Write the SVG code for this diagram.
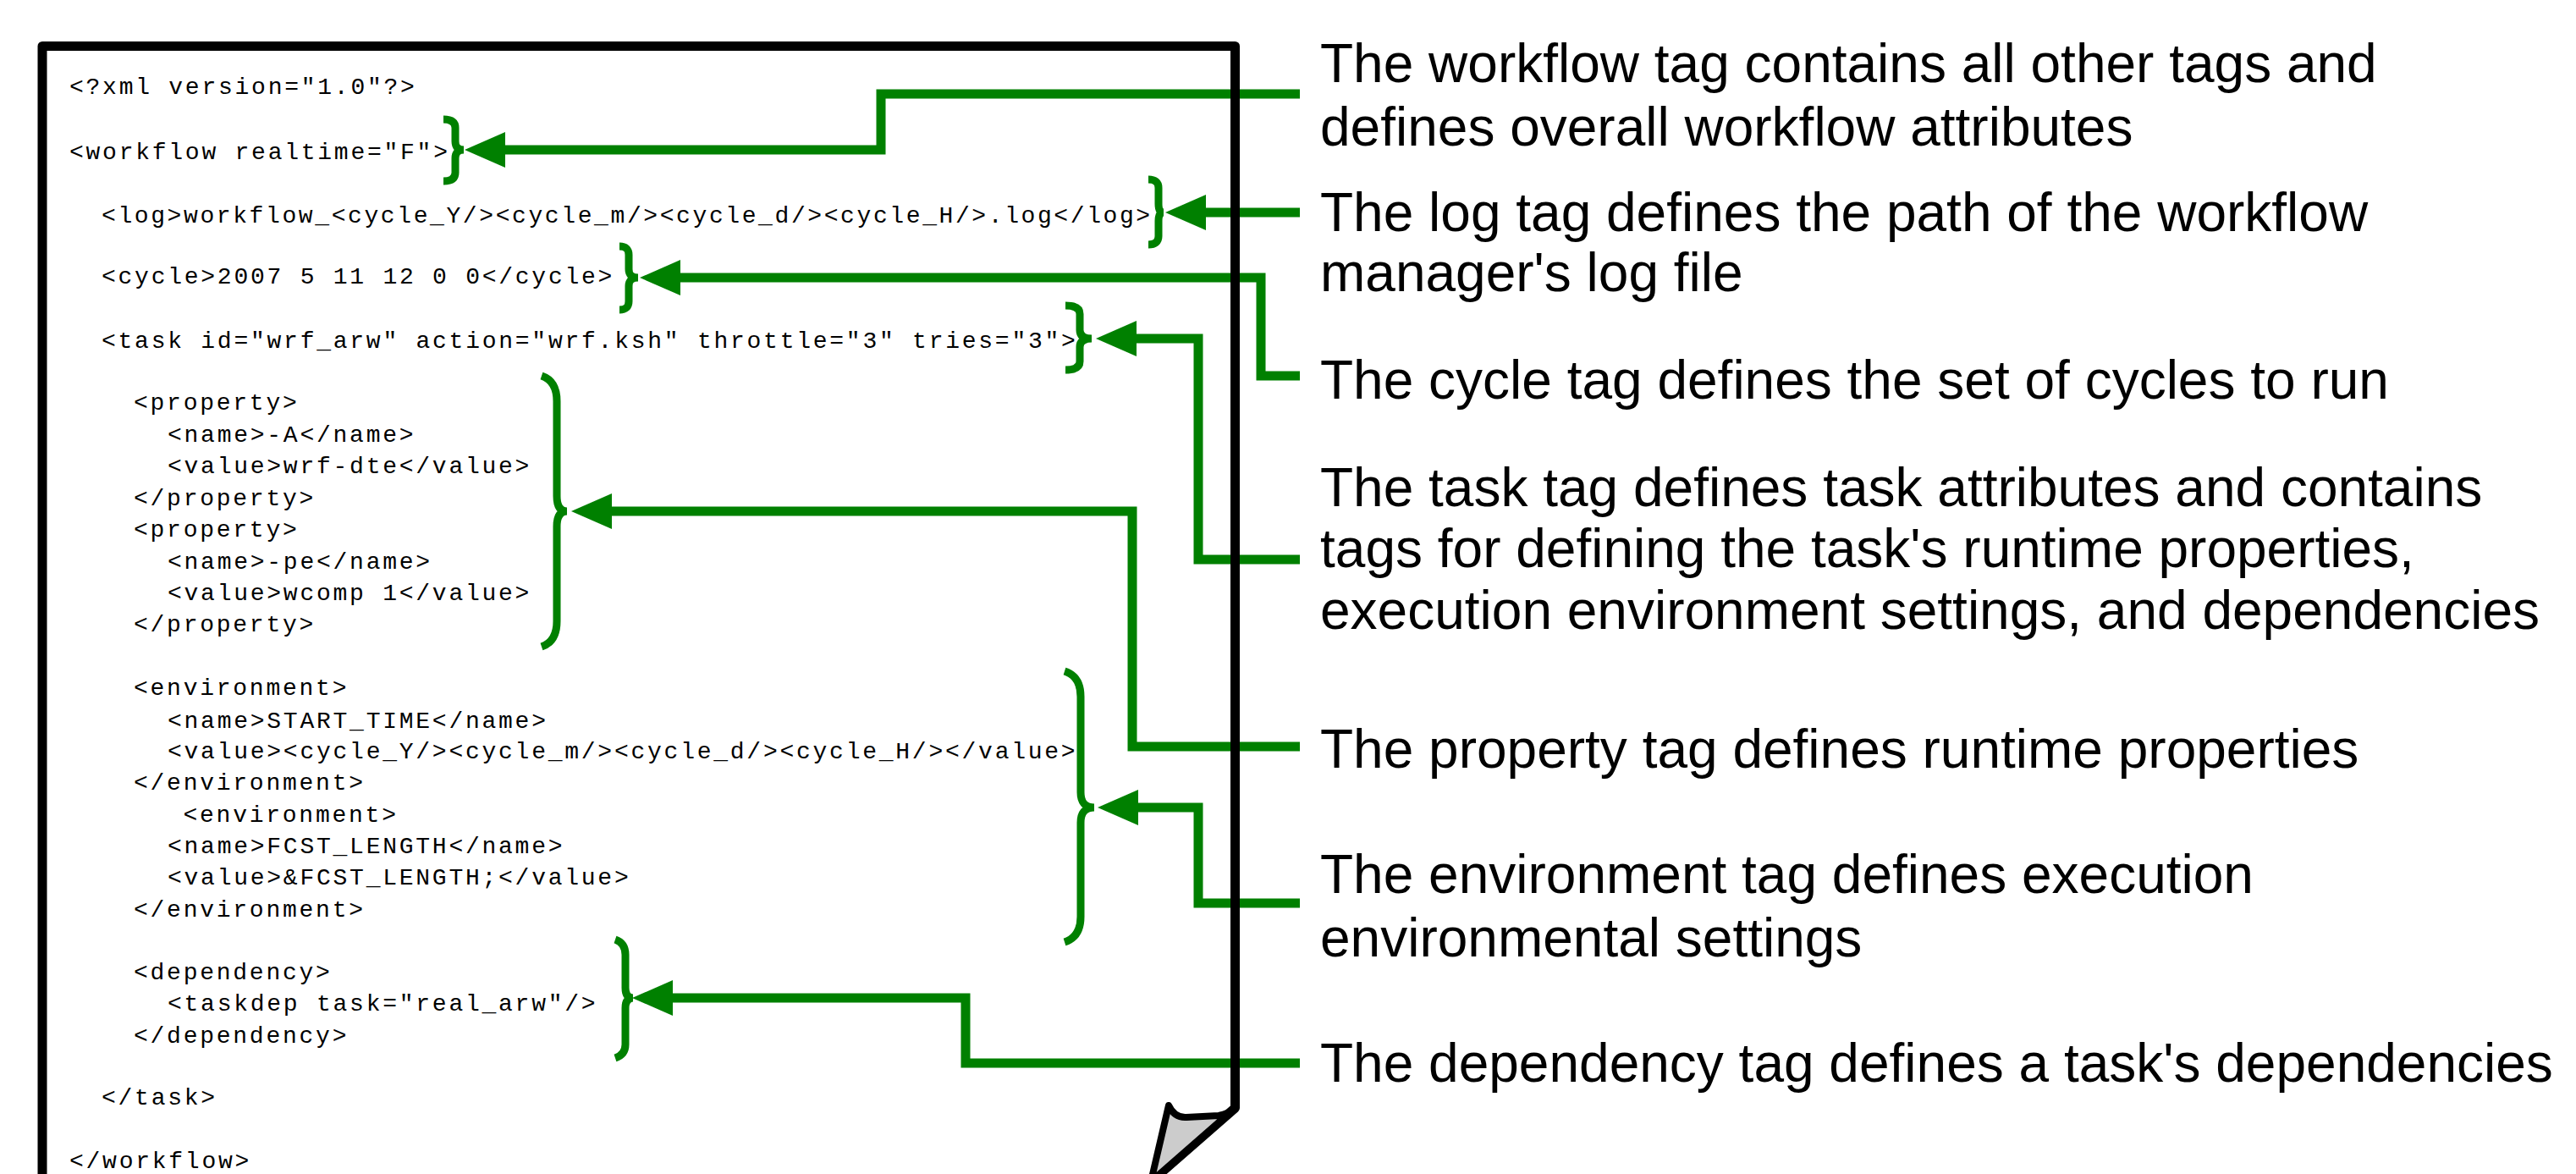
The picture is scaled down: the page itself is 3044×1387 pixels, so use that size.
<svg xmlns="http://www.w3.org/2000/svg" width="3044" height="1387" viewBox="0 0 3044 1387">
<style>
.code{font-family:"Liberation Mono","Courier New",monospace;font-size:28px;letter-spacing:2.75px;fill:#000}
.label{font-family:"Liberation Sans",Arial,sans-serif;font-size:64px;fill:#000}
.conn{fill:none;stroke:#008000;stroke-width:11;stroke-linejoin:miter;marker-start:url(#arrow)}
.brace{fill:none;stroke:#008000;stroke-width:9}
.page{fill:none;stroke:#000;stroke-width:11;stroke-linejoin:round}
.flap{fill:#cccccc;stroke:#000;stroke-width:8;stroke-linejoin:round}
</style>
<defs>
<marker id="arrow" markerUnits="userSpaceOnUse" markerWidth="60" markerHeight="60" refX="0" refY="0" orient="auto-start-reverse" overflow="visible">
<path d="M-3,-21 L45,0 L-3,21 Z" fill="#008000"/>
</marker>
</defs>
<rect width="3044" height="1387" fill="#fff"/>

<g id="connectors">
<path class="conn" d="M594,177 H1041 V111 H1536"/>
<path class="conn" d="M1422,251 H1536"/>
<path class="conn" d="M801,328 H1490 V444 H1536"/>
<path class="conn" d="M1340,400 H1416 V661 H1536"/>
<path class="conn" d="M720,604 H1338 V882 H1536"/>
<path class="conn" d="M1342,954 H1416 V1067 H1536"/>
<path class="conn" d="M792,1179 H1141 V1256 H1536"/>
</g>

<g id="page">
<path class="page" d="M50,1420 L50,54.5 L1459.5,54.5 L1459.5,1309 L1360,1396"/>
<path class="flap" d="M1381,1306 Q1388,1321 1402,1320 L1440,1318 Q1452,1316 1459.5,1309 L1360,1396 Z"/>
</g>

<g id="code">
<text class="code" x="82" y="111">&lt;?xml version="1.0"?&gt;</text>
<text class="code" x="82" y="188">&lt;workflow realtime="F"&gt;</text>
<text class="code" x="120" y="263" style="letter-spacing:2.6px">&lt;log&gt;workflow_&lt;cycle_Y/&gt;&lt;cycle_m/&gt;&lt;cycle_d/&gt;&lt;cycle_H/&gt;.log&lt;/log&gt;</text>
<text class="code" x="120" y="334.5">&lt;cycle&gt;2007 5 11 12 0 0&lt;/cycle&gt;</text>
<text class="code" x="120" y="411">&lt;task id="wrf_arw" action="wrf.ksh" throttle="3" tries="3"&gt;</text>
<text class="code" x="158" y="484">&lt;property&gt;</text>
<text class="code" x="198" y="522">&lt;name&gt;-A&lt;/name&gt;</text>
<text class="code" x="198" y="558.6">&lt;value&gt;wrf-dte&lt;/value&gt;</text>
<text class="code" x="158" y="596.6">&lt;/property&gt;</text>
<text class="code" x="158" y="633.6">&lt;property&gt;</text>
<text class="code" x="198" y="671.6">&lt;name&gt;-pe&lt;/name&gt;</text>
<text class="code" x="198" y="708.6">&lt;value&gt;wcomp 1&lt;/value&gt;</text>
<text class="code" x="158" y="746">&lt;/property&gt;</text>
<text class="code" x="158" y="821">&lt;environment&gt;</text>
<text class="code" x="198" y="859.7">&lt;name&gt;START_TIME&lt;/name&gt;</text>
<text class="code" x="198" y="896">&lt;value&gt;&lt;cycle_Y/&gt;&lt;cycle_m/&gt;&lt;cycle_d/&gt;&lt;cycle_H/&gt;&lt;/value&gt;</text>
<text class="code" x="158" y="933">&lt;/environment&gt;</text>
<text class="code" x="216.5" y="971">&lt;environment&gt;</text>
<text class="code" x="198" y="1008">&lt;name&gt;FCST_LENGTH&lt;/name&gt;</text>
<text class="code" x="198" y="1044.5">&lt;value&gt;&amp;FCST_LENGTH;&lt;/value&gt;</text>
<text class="code" x="158" y="1082.5">&lt;/environment&gt;</text>
<text class="code" x="158" y="1156.7">&lt;dependency&gt;</text>
<text class="code" x="198" y="1194">&lt;taskdep task="real_arw"/&gt;</text>
<text class="code" x="158" y="1232">&lt;/dependency&gt;</text>
<text class="code" x="120" y="1305">&lt;/task&gt;</text>
<text class="code" x="82" y="1379.5">&lt;/workflow&gt;</text>
</g>

<g id="brace-workflow"><path class="brace" d="M524,141 Q538,141 538,151 L538,167 Q538,177 548,177 Q538,177 538,187 L538,204 Q538,214 524,214"/></g>
<g id="brace-log"><path class="brace" d="M1357,212 Q1369,212 1369,222 L1369,241 Q1369,251 1375,251 Q1369,251 1369,261 L1369,279 Q1369,289 1357,289"/></g>
<g id="brace-cycle"><path class="brace" d="M732,291 Q743,291 743,301 L743,318 Q743,328 754,328 Q743,328 743,338 L743,356 Q743,366 732,366"/></g>
<g id="brace-task"><path class="brace" d="M1259,361 Q1276,361 1276,371 L1276,390 Q1276,400 1290,400 Q1276,400 1276,410 L1276,427 Q1276,437 1259,437"/></g>
<g id="brace-property"><path class="brace" d="M640,444 Q658,450 658,474 L658,586 Q658,604 670,604 Q658,604 658,622 L658,734 Q658,758 640,764"/></g>
<g id="brace-environment"><path class="brace" d="M1258,793 Q1277,799 1277,823 L1277,936 Q1277,954 1293,954 Q1277,954 1277,972 L1277,1083 Q1277,1107 1258,1113"/></g>
<g id="brace-dependency"><path class="brace" d="M727,1110 Q739,1114 739,1128 L739,1167 Q739,1179 748,1179 Q739,1179 739,1191 L739,1234 Q739,1246 727,1250"/></g>

<g id="note-workflow">
<text class="label" x="1560" y="97">The workflow tag contains all other tags and</text>
<text class="label" x="1560" y="172">defines overall workflow attributes</text>
</g>
<g id="note-log">
<text class="label" x="1560" y="273">The log tag defines the path of the workflow</text>
<text class="label" x="1560" y="344">manager's log file</text>
</g>
<g id="note-cycle">
<text class="label" x="1560" y="471">The cycle tag defines the set of cycles to run</text>
</g>
<g id="note-task">
<text class="label" x="1560" y="598">The task tag defines task attributes and contains</text>
<text class="label" x="1560" y="670">tags for defining the task's runtime properties,</text>
<text class="label" x="1560" y="743">execution environment settings, and dependencies</text>
</g>
<g id="note-property">
<text class="label" x="1560" y="907">The property tag defines runtime properties</text>
</g>
<g id="note-environment">
<text class="label" x="1560" y="1055">The environment tag defines execution</text>
<text class="label" x="1560" y="1130">environmental settings</text>
</g>
<g id="note-dependency">
<text class="label" x="1560" y="1278">The dependency tag defines a task's dependencies</text>
</g>
</svg>
